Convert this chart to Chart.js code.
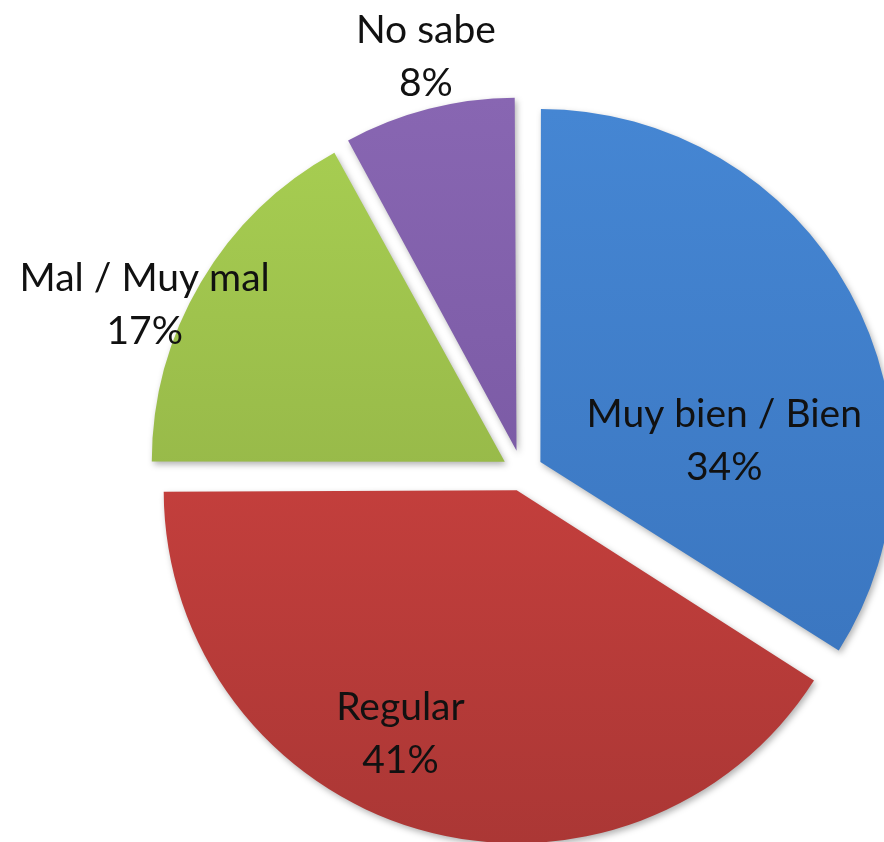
<!DOCTYPE html>
<html>
<head>
<meta charset="utf-8">
<script src="https://cdn.jsdelivr.net/npm/chart.js@4"></script>
<style>
    html, body { margin: 0; padding: 0; background: #ffffff; }
    #wrap { width: 884px; height: 842px; position: relative; }
</style>
</head>
<body>
<div id="wrap"><canvas id="pieChart"></canvas></div>
<script>
// Chart data
const categories = ['Muy bien / Bien', 'Regular', 'Mal / Muy mal', 'No sabe'];
const values = [34, 41, 17, 8];

// Slice colours (top, bottom of gradient)
const topColors = ['#4586d3', '#da4643', '#a8cf52', '#8866b2'];
const bottomColors = ['#3872bb', '#ab3735', '#89a641', '#70519a'];

// Label placement: angle (deg, clockwise from top) and distance as ratio of radius
const labelAngles = [81, 205, 294, 347];
const labelRadius = [0.58, 0.815, 1.17, 1.21];

const pieRadius = 353;
const explode = [84, 76, 80, 88];

document.addEventListener('DOMContentLoaded', function () {
    const ctx = document.getElementById('pieChart');
    const total = values.reduce((a, b) => a + b, 0);

    // soft drop shadow under the slices; also undo the radius growth
    // Chart.js adds to exploded slices so all slices keep the same radius
    const shadowPlugin = {
        id: 'sliceShadow',
        beforeDatasetsDraw(chart) {
            const meta = chart.getDatasetMeta(0);
            meta.data.forEach(function (arc, i) {
                const circ = arc.circumference;
                const fix = 1 - Math.sin(Math.min(Math.PI, circ));
                arc.outerRadius = pieRadius - (explode[i] / 4) * fix;
            });
            const c = chart.ctx;
            c.save();
            c.shadowColor = 'rgba(0, 0, 0, 0.3)';
            c.shadowBlur = 6;
            c.shadowOffsetX = 2;
            c.shadowOffsetY = 3;
        },
        afterDatasetsDraw(chart) {
            chart.ctx.restore();
        }
    };

    // two-line labels: name and percentage
    const labelPlugin = {
        id: 'sliceLabels',
        afterDatasetsDraw(chart) {
            const c = chart.ctx;
            const meta = chart.getDatasetMeta(0);
            c.save();
            c.fillStyle = '#111111';
            c.font = '39px Lato, "Open Sans", sans-serif';
            c.textAlign = 'center';
            c.textBaseline = 'alphabetic';
            meta.data.forEach(function (arc, i) {
                const a = labelAngles[i] * Math.PI / 180;
                const r = pieRadius * labelRadius[i];
                const x = arc.x + r * Math.sin(a);
                const y = arc.y - r * Math.cos(a);
                const pct = Math.round(values[i] / total * 100) + '%';
                c.fillText(categories[i], x, y - 13);
                c.fillText(pct, x, y + 40);
            });
            c.restore();
        }
    };

    // vertical gradient per slice
    function sliceColor(context) {
        const i = context.dataIndex;
        const chart = context.chart;
        const area = chart.chartArea;
        if (!area) return topColors[i];
        const cy = (area.top + area.bottom) / 2;
        const g = chart.ctx.createLinearGradient(0, cy - pieRadius, 0, cy + pieRadius);
        g.addColorStop(0, topColors[i]);
        g.addColorStop(1, bottomColors[i]);
        return g;
    }

    new Chart(ctx, {
        type: 'pie',
        data: {
            labels: categories,
            datasets: [{
                data: values,
                backgroundColor: sliceColor,
                borderWidth: 0,
                // arc offset is drawn at 1/4 in v4
                offset: explode,
                hoverOffset: 0,
                clip: false
            }]
        },
        options: {
            responsive: true,
            maintainAspectRatio: false,
            animation: false,
            radius: pieRadius,
            layout: {
                padding: { left: 160, right: 0, top: 102, bottom: 0 }
            },
            plugins: {
                legend: { display: false },
                tooltip: { enabled: false }
            }
        },
        plugins: [shadowPlugin, labelPlugin]
    });
});
</script>
</body>
</html>
